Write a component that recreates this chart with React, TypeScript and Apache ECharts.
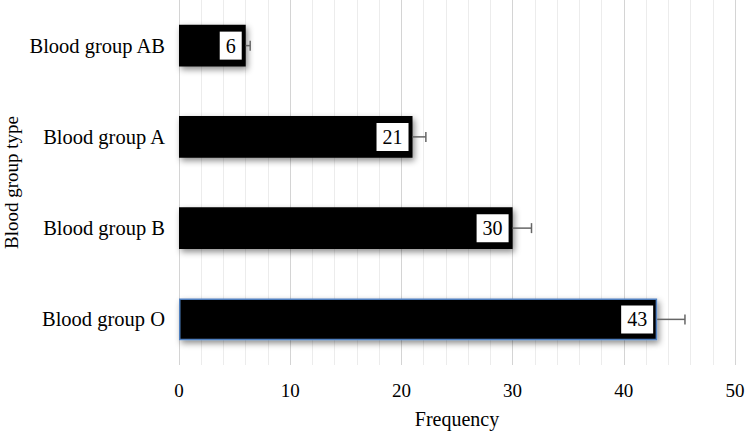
import React, { useEffect, useRef } from "react";
import * as echarts from "echarts";

const categories = ["Blood group O", "Blood group B", "Blood group A", "Blood group AB"];
const values = [43, 30, 21, 6];
const errors = [2.5, 1.7, 1.2, 0.4];
const xTicks = [0, 10, 20, 30, 40, 50];

const FONT = "'Liberation Serif', 'Times New Roman', serif";

export default function App() {
  const ref = useRef<HTMLDivElement>(null);
  useEffect(() => {
    const chart = echarts.init(ref.current!, null, { renderer: "svg" });
    chart.setOption({
      animation: false,
      grid: { left: 179, right: 15, top: 0, bottom: 67, containLabel: false, outerBoundsMode: "none" },
      xAxis: {
        type: "value",
        min: xTicks[0],
        max: xTicks[xTicks.length - 1],
        interval: 10,
        name: "Frequency",
        nameLocation: "middle",
        nameGap: 44,
        nameTextStyle: { fontFamily: FONT, fontSize: 20, color: "#000" },
        axisLine: { show: false },
        axisTick: { show: false },
        axisLabel: { fontFamily: FONT, fontSize: 19, color: "#000", margin: 16 },
        splitLine: { show: true, lineStyle: { color: "#d4d4d4", width: 1 } },
        minorTick: { show: false, splitNumber: 5 },
        minorSplitLine: { show: true, lineStyle: { color: "#ececec", width: 1 } },
      },
      yAxis: {
        type: "category",
        data: categories,
        name: "Blood group type",
        nameLocation: "middle",
        nameGap: 158,
        nameMoveOverlap: false,
        nameRotate: 90,
        nameTextStyle: { fontFamily: FONT, fontSize: 19, color: "#000" },
        axisLine: { show: false },
        axisTick: { show: false },
        axisLabel: { fontFamily: FONT, fontSize: 20.5, color: "#000", margin: 14 },
        splitLine: { show: false },
      },
      series: [
        {
          type: "bar",
          barWidth: "46%",
          data: values.map((v, i) => ({
            value: v,
            itemStyle:
              i === 0
                ? { color: "#000", borderColor: "#4f7fbf", borderWidth: 1.5 }
                : { color: "#000" },
          })),
          itemStyle: {
            color: "#000",
            shadowColor: "rgba(0,0,0,0.45)",
            shadowBlur: 6,
            shadowOffsetX: 2,
            shadowOffsetY: 3,
          },
          label: {
            show: true,
            position: "insideRight",
            distance: 4,
            backgroundColor: "#fff",
            color: "#000",
            fontFamily: FONT,
            fontSize: 20,
            padding: [5, 6, 3, 6],
          },
          z: 2,
        },
        {
          type: "custom",
          data: values.map((v, i) => [i, v, errors[i]]),
          encode: { x: 1, y: 0 },
          z: 3,
          renderItem: (params: any, api: any) => {
            const idx = api.value(0);
            const v = api.value(1);
            const e = api.value(2);
            const p0 = api.coord([v, idx]);
            const p1 = api.coord([v + e, idx]);
            const style = { stroke: "#666", lineWidth: 1.5 };
            return {
              type: "group",
              children: [
                { type: "line", shape: { x1: p0[0], y1: p0[1], x2: p1[0], y2: p1[1] }, style },
                { type: "line", shape: { x1: p1[0], y1: p1[1] - 5, x2: p1[0], y2: p1[1] + 5 }, style },
              ],
            };
          },
        },
      ],
    });
    return () => chart.dispose();
  }, []);
  return (
    <div
      ref={ref}
      style={{ position: "absolute", left: 0, top: 0, width: 750, height: 432, background: "#fff" }}
    />
  );
}
